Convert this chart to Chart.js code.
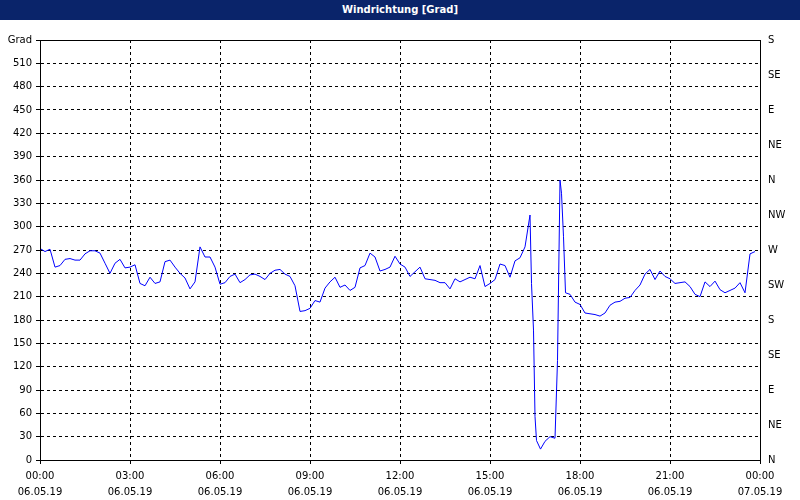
<!DOCTYPE html>
<html lang="de">
<head>
  <meta charset="UTF-8">
  <title>Windrichtung</title>
  <script src="https://cdn.jsdelivr.net/npm/chart.js"></script>
  <style>
    body { margin: 0; background: #fff; font-family: 'DejaVu Sans', sans-serif; }
    #title {
      width: 800px; height: 20px; background: #0a246a; color: #fff;
      font: bold 10px 'DejaVu Sans', sans-serif; text-align: center; line-height: 20px;
    }
  </style>
</head>
<body>
  <div id="title">Windrichtung [Grad]</div>
  <div style="width:800px;height:480px"><canvas id="chart" width="800" height="480"></canvas></div>
  <script>
    // values every 10 minutes from 00:00 to 16:20
    const morningValues = [272,268,271,248,250,258,259,257,257,265,269,269,266,253,240,253,258,247,248,251,
      227,224,235,227,229,255,257,248,240,234,220,229,274,261,261,248,226,228,236,239,
      228,232,238,239,236,232,240,244,245,239,236,224,191,192,195,205,203,221,229,235,
      222,225,218,222,247,250,266,261,243,245,248,262,252,248,236,
      242,248,233,232,231,228,228,220,233,229,232,235,233,250,223,227,232,252,250,235,256,260,274,315];
    // the drop through north, irregular sample times (minutes)
    const spikeMinutes = [983,987,990,993,1001,1010,1020,1030,1035,1040,1043,1047,1051];
    const spikeValues = [227,167,56,25,14,24,30,28,128,360,343,287,215];
    // values every 10 minutes from 17:40 to 23:50
    const eveningValues = [213,203,200,189,188,187,185,189,199,203,204,208,209,218,225,239,245,232,243,236,
      233,227,228,229,223,213,210,229,223,230,219,215,218,221,228,215,265,268];
    const timeLabels = ['00:00','03:00','06:00','09:00','12:00','15:00','18:00','21:00','00:00'];
    const dateLabels = ['06.05.19','06.05.19','06.05.19','06.05.19','06.05.19','06.05.19','06.05.19','06.05.19','07.05.19'];
    const compassLabels = ['N','NE','E','SE','S','SW','W','NW','N','NE','E','SE','S'];

    const points = [];
    morningValues.forEach((v, i) => points.push({ x: i * 10, y: v }));
    spikeValues.forEach((v, i) => points.push({ x: spikeMinutes[i], y: v }));
    eveningValues.forEach((v, i) => points.push({ x: 1060 + i * 10, y: v }));

    const font = { family: 'DejaVu Sans', size: 10 };
    const dashedGrid = { color: '#000', lineWidth: 1, drawTicks: true, tickLength: 4, tickColor: '#000' };

    // solid frame around the plot area
    const frame = {
      id: 'frame',
      afterDraw(chart) {
        const { ctx, chartArea: a } = chart;
        ctx.save();
        ctx.strokeStyle = '#000';
        ctx.lineWidth = 1;
        ctx.setLineDash([]);
        ctx.strokeRect(a.left + 0.5, a.top + 0.5, a.right - a.left, a.bottom - a.top);
        ctx.restore();
      }
    };

    new Chart(document.getElementById('chart'), {
      type: 'line',
      data: { datasets: [{ data: points, borderColor: '#0000ff', borderWidth: 1, pointRadius: 0, tension: 0, yAxisID: 'y' }] },
      options: {
        responsive: false,
        animation: false,
        events: [],
        layout: { padding: { top: 20, bottom: 0, left: 0, right: 0 } },
        plugins: { legend: { display: false }, tooltip: { enabled: false } },
        scales: {
          x: {
            type: 'linear', min: 0, max: 1440,
            grid: dashedGrid,
            border: { color: '#000', dash: [3, 3] },
            afterFit: s => { s.height = 40; },
            afterBuildTicks: s => { s.ticks = timeLabels.map((t, i) => ({ value: i * 180 })); },
            ticks: { color: '#000', font: { ...font, lineHeight: 1.6 }, padding: 4, maxRotation: 0,
              callback: (v) => [timeLabels[v / 180], dateLabels[v / 180]] }
          },
          y: {
            min: 0, max: 540,
            grid: dashedGrid,
            border: { color: '#000', dash: [3, 3] },
            afterFit: s => { s.width = 40; },
            afterBuildTicks: s => { s.ticks = []; for (let v = 0; v <= 540; v += 30) s.ticks.push({ value: v }); },
            ticks: { color: '#000', font, padding: 4, callback: v => v === 540 ? 'Grad' : v }
          },
          y2: {
            position: 'right', min: 0, max: 540,
            grid: { display: false, drawTicks: true, tickLength: 4, tickColor: '#000' },
            border: { color: '#000' },
            afterFit: s => { s.width = 40; },
            afterBuildTicks: s => { s.ticks = []; for (let v = 0; v <= 540; v += 45) s.ticks.push({ value: v }); },
            ticks: { color: '#000', font, padding: 4, callback: v => compassLabels[v / 45] }
          }
        }
      },
      plugins: [frame]
    });
  </script>
</body>
</html>
